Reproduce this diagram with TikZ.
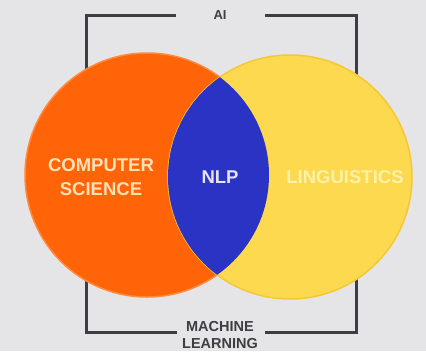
\documentclass[tikz,border=0pt]{standalone}
\usepackage{fontspec}
\setmainfont{Liberation Sans}
\definecolor{bg}{HTML}{E5E5E7}
\definecolor{orng}{HTML}{FF6508}
\definecolor{orngrim}{HTML}{FF8A40}
\definecolor{yel}{HTML}{FCD94E}
\definecolor{yelrim}{HTML}{F5C832}
\definecolor{nlpblue}{HTML}{2B33C4}
\definecolor{brk}{HTML}{3E3E42}
\definecolor{cstext}{HTML}{FFE2B8}
\definecolor{lingtext}{HTML}{FFF1A8}
\definecolor{nlptext}{HTML}{E4E4FF}
\begin{document}
\begin{tikzpicture}[x=1pt,y=-1pt,
  bracket/.style={draw=brk,line width=3pt},
  lbl/.style={font=\bfseries,inner sep=0pt,align=center},
  venn/.style={line width=1.5pt}]
\fill[bg] (0,0) rectangle (426,351);
\useasboundingbox (0,0) rectangle (426,351);
% text nodes for bracket
\node[lbl,font=\bfseries\fontsize{13}{13}\selectfont,text=brk] (ai) at (220,15) {AI};
\node[lbl,font=\bfseries\fontsize{14.5}{17.5}\selectfont,text=brk] (ml) at (220,335) {MACHINE\\LEARNING};
\coordinate (tl) at (86,15);
\coordinate (tr) at (356,15);
\coordinate (bl) at (86,332);
\coordinate (br) at (356,332);
\coordinate (tlend) at (176,15);
\coordinate (trend) at (265,15);
\coordinate (blend) at (177,332);
\coordinate (brend) at (265,332);
\draw[bracket] (tlend) -- (tl) -- (bl) -- (blend);
\draw[bracket] (trend) -- (tr) -- (br) -- (brend);
% circles
\coordinate (cl) at (147,175);
\coordinate (cr) at (290,177);
\fill[orng,draw=orngrim,venn] (cl) circle (122);
\fill[yel,draw=yelrim,venn] (cr) circle (122);
\begin{scope}
\clip (cl) circle (122);
\fill[nlpblue] (cr) circle (122);
\end{scope}
% labels
\node[lbl,font=\bfseries\fontsize{18.5}{24.5}\selectfont,text=cstext] (cs) at (101,177) {COMPUTER\\SCIENCE};
\node[lbl,font=\bfseries\fontsize{18.5}{20}\selectfont,text=nlptext] (nlp) at (220,177) {NLP};
\node[lbl,font=\bfseries\fontsize{18.5}{20}\selectfont,text=lingtext] (ling) at (345,177) {LINGUISTICS};
\end{tikzpicture}
\end{document}
